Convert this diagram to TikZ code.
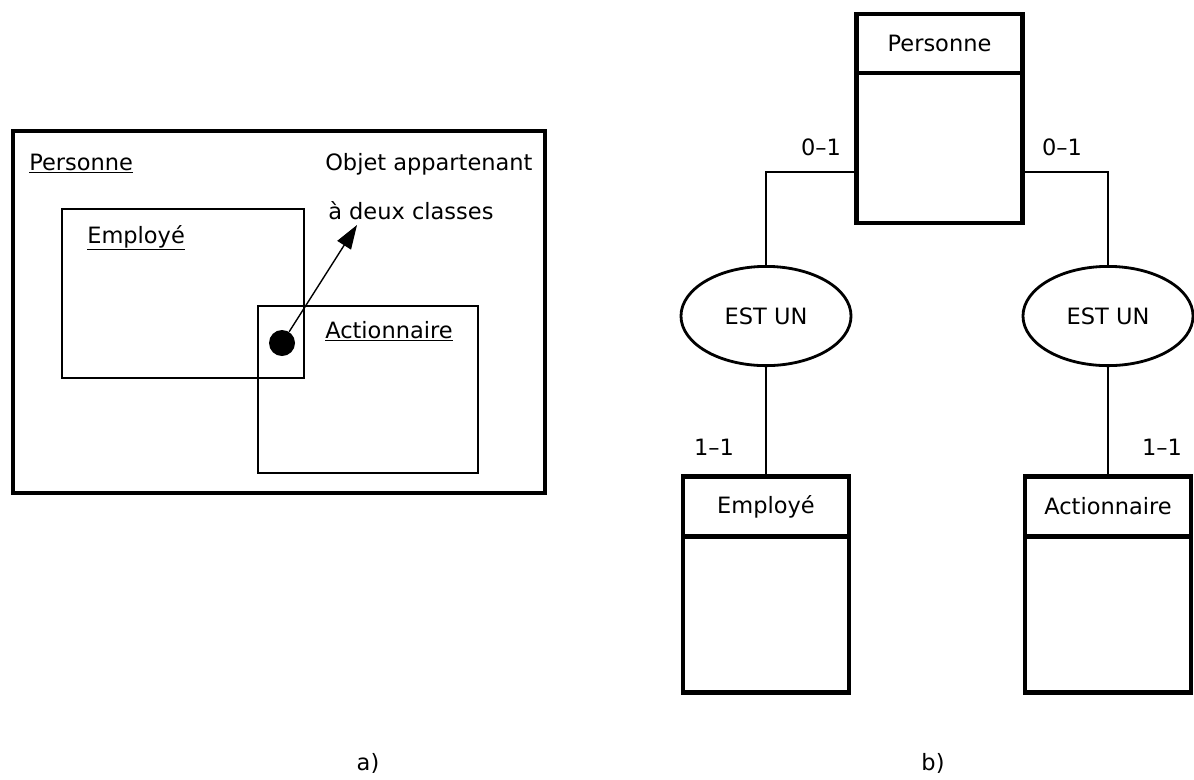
\documentclass[tikz,border=0pt]{standalone}
\usepackage{fontspec}
\setmainfont{DejaVu Sans}
\usetikzlibrary{arrows.meta,shapes.geometric,positioning}

\begin{document}
\begin{tikzpicture}[x=0.025cm,y=-0.025cm,
  every node/.style={font=\fontsize{16pt}{19pt}\selectfont,inner sep=0pt},
  hd/.style={draw,line width=3.2pt,minimum width=4.15cm,minimum height=1.5cm,outer sep=0pt},
  bd/.style={draw,line width=3.2pt,minimum width=4.15cm,minimum height=3.9cm,outer sep=0pt},
  isa/.style={draw,ellipse,line width=2pt,minimum width=4.25cm,minimum height=2.48cm},
  link/.style={line width=1pt},
  venn/.style={draw,line width=1pt}]
\useasboundingbox (0,0) rectangle (1194,779);
% a) sets drawn as boxes
\draw[line width=2.8pt] (13,131) rectangle (545,493);
\draw[venn] (62,209) rectangle (304,378);
\draw[venn] (258,306) rectangle (478,473);
\node[anchor=base west] (lPers) at (29,170) {\underline{Personne}};
\node[anchor=base west] (lEmp) at (87,243) {\underline{Employé}};
\node[anchor=base west] (lAct) at (325,338) {\underline{Actionnaire}};
\node[anchor=base west] (obj1) at (325,170) {Objet appartenant};
\node[anchor=base west] (obj2) at (328,219) {à deux classes};
\node[circle,fill,minimum size=0.65cm] (dot) at (282,343) {};
\coordinate (tip) at (357,225);
\draw[-{Triangle[length=0.6cm,width=0.4cm]},line width=1pt] (dot) -- (tip);
\node (capA) at (368,763) {a)};
% b) entities and relations
\node[hd,minimum height=1.475cm] (persHd) at (939.5,43.5) {Personne};
\node[bd,minimum height=3.75cm,below=0pt of persHd] (persBd) {};
\node[isa] (isaL) at (766,316) {EST UN};
\node[isa] (isaR) at (1108,316) {EST UN};
\node[hd] (empHd) at (766,506.5) {Employé};
\node[bd,below=0pt of empHd] (empBd) {};
\node[hd] (actHd) at (1108,506.5) {Actionnaire};
\node[bd,below=0pt of actHd] (actBd) {};
\draw[link] ([yshift=-0.6cm]persBd.west) -| (isaL.north);
\draw[link] ([yshift=-0.6cm]persBd.east) -| (isaR.north);
\draw[link] (isaL.south) -- (empHd.north);
\draw[link] (isaR.south) -- (actHd.north);
% cardinalities
\node (cL) at (821,147) {0--1};
\node (cR) at (1062,147) {0--1};
\node (dL) at (714,447) {1--1};
\node (dR) at (1162,447) {1--1};
\node (capB) at (933,763) {b)};
\end{tikzpicture}
\end{document}
